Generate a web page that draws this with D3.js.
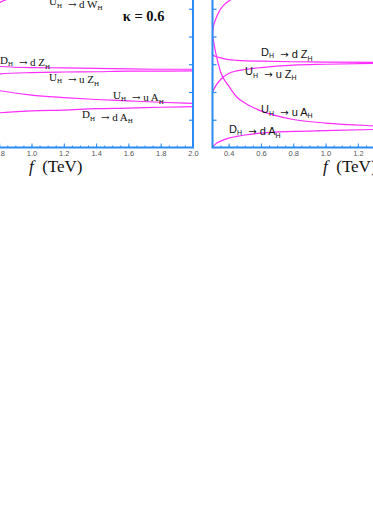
<!DOCTYPE html>
<html>
<head>
<meta charset="utf-8">
<script src="https://cdn.jsdelivr.net/npm/d3@7"></script>
<style>
	body { margin: 0; background: #fff; }
	svg { display: block; }
</style>
</head>
<body>
<div id="chart"></div>
<script>
// branching ratios vs f (TeV)
var leftF   = [0.75, 0.8, 1.0, 1.2, 1.4, 1.6, 1.8, 2.0];
var leftDZ  = [0.294, 0.292, 0.288, 0.287, 0.285, 0.283, 0.282, 0.282];
var leftUZ  = [0.262, 0.265, 0.270, 0.272, 0.273, 0.275, 0.275, 0.276];
var leftUA  = [0.210, 0.205, 0.189, 0.180, 0.173, 0.168, 0.163, 0.159];
var leftDA  = [0.122, 0.125, 0.132, 0.135, 0.140, 0.142, 0.145, 0.147];
var leftWF  = [0.75, 0.8, 0.85, 1.0, 1.2, 1.6, 2.0];
var leftDW  = [0.505, 0.522, 0.534, 0.555, 0.570, 0.585, 0.590];

var rightF  = [0.3, 0.32, 0.35, 0.4, 0.45, 0.5, 0.6, 0.8, 1.0, 1.3, 1.6, 2.0];
var rightUA = [0.405, 0.341, 0.272, 0.222, 0.182, 0.160, 0.132, 0.101, 0.088, 0.078, 0.072, 0.068];
var rightDZ = [0.333, 0.328, 0.323, 0.317, 0.314, 0.312, 0.311, 0.309, 0.308, 0.307, 0.307, 0.306];
var rightUZ = [0.200, 0.222, 0.245, 0.267, 0.276, 0.281, 0.288, 0.297, 0.300, 0.303, 0.304, 0.304];
var rightDA = [0.000, 0.013, 0.023, 0.034, 0.040, 0.045, 0.052, 0.058, 0.061, 0.065, 0.067, 0.069];
var rightWF = [0.3, 0.305, 0.315, 0.326, 0.346, 0.377, 0.408, 0.5, 0.7, 1.0, 1.5, 2.0];
var rightDW = [0.405, 0.435, 0.455, 0.471, 0.495, 0.517, 0.531, 0.556, 0.582, 0.598, 0.607, 0.610];

var leftXTicks  = [0.8, 1.0, 1.2, 1.4, 1.6, 1.8, 2.0];
var rightXTicks = [0.4, 0.6, 0.8, 1.0, 1.2, 1.4, 1.6, 1.8, 2.0];
var yTicks = [0.1, 0.2, 0.3, 0.4, 0.5, 0.6];

// labels: text, f, BR of the text anchor
var leftLabels = [
	["U_H ~ d W_H", 1.108, 0.5135],
	["D_H ~ d Z_H", 0.805, 0.301],
	["U_H ~ u Z_H", 1.108, 0.240],
	["U_H ~ u A_H", 1.505, 0.176],
	["D_H ~ d A_H", 1.313, 0.106]
];
var rightLabels = [
	["D_H ~ d Z_H", 0.600, 0.331],
	["U_H ~ u Z_H", 0.501, 0.260],
	["U_H ~ u A_H", 0.600, 0.123],
	["D_H ~ d A_H", 0.402, 0.054]
];

var width = 373,
	height = 526,
	pxPerF = 161.5,
	pxPerBr = 277.5,
	y0 = 147.5;

var blue = "#2a8cf4",
	pink = "#ff2cff",
	serif = "'Liberation Serif', 'Times New Roman', serif",
	sans = "'Liberation Sans', Arial, sans-serif";

var svg = d3.select("#chart")
	.append("svg")
	.attr("width", width)
	.attr("height", height);

var y = d3.scaleLinear()
	.domain([0, 0.7])
	.range([y0, y0 - 0.7 * pxPerBr]);

function zip(fs, vs) {
	return fs.map(function(f, i) { return [f, vs[i]]; });
}

// "_H" -> subscript, "~" -> arrow
function addLabel(g, x, yy, str, family, arrowFamily) {
	var t = g.append("text")
		.attr("x", x)
		.attr("y", yy)
		.attr("font-family", family)
		.attr("font-size", 11)
		.attr("fill", "#111")
		.style("white-space", "pre");
	str.split(/(_H|~)/).forEach(function(p) {
		if (!p) return;
		if (p === "_H") {
			t.append("tspan").attr("font-size", 7).attr("dy", 2.5).text("H");
			t.append("tspan").attr("dy", -2.5).text("");
		} else if (p === "~") {
			t.append("tspan").attr("font-family", arrowFamily).attr("font-size", 10).text(" \u2192");
		} else {
			t.append("tspan").text(p);
		}
	});
}

function panel(id, x0, curves, labels, xTicks, yAxisAt, yAxisFn, labelFont, arrowFont) {
	var x = d3.scaleLinear()
		.domain([0.3, 2.0])
		.range([x0, x0 + 1.7 * pxPerF]);

	var g = svg.append("g");

	g.append("clipPath")
		.attr("id", id)
		.append("rect")
		.attr("x", x(0.3))
		.attr("y", y(0.7))
		.attr("width", x(2.0) - x(0.3))
		.attr("height", y(0) - y(0.7));

	var line = d3.line()
		.x(function(d) { return x(d[0]); })
		.y(function(d) { return y(d[1]); })
		.curve(d3.curveMonotoneX);

	g.append("g")
		.attr("clip-path", "url(#" + id + ")")
		.selectAll("path")
		.data(curves)
		.enter()
		.append("path")
		.attr("d", line)
		.attr("fill", "none")
		.attr("stroke", pink)
		.attr("stroke-width", 1.2);

	// minor x ticks
	g.append("g")
		.attr("transform", "translate(0," + y0 + ")")
		.call(d3.axisBottom(x)
			.tickValues(d3.range(0.3, 2.001, 0.05))
			.tickSizeInner(-2)
			.tickSizeOuter(0)
			.tickFormat(""))
		.call(function(a) { a.select(".domain").remove(); })
		.selectAll("line").attr("stroke", blue);

	var xa = g.append("g")
		.attr("transform", "translate(0," + y0 + ")")
		.call(d3.axisBottom(x)
			.tickValues(xTicks)
			.tickSizeInner(-4)
			.tickSizeOuter(0)
			.tickPadding(3)
			.tickFormat(d3.format(".1f")));
	xa.select(".domain").remove();
	xa.selectAll("line").attr("stroke", blue);
	xa.selectAll("text")
		.attr("font-family", sans)
		.attr("font-size", 7.5)
		.attr("fill", "#555");

	var ya = g.append("g")
		.attr("transform", "translate(" + yAxisAt(x) + ",0)")
		.call(yAxisFn(y).tickValues(yTicks).tickSizeInner(4).tickSizeOuter(0).tickFormat(""));
	ya.select(".domain").remove();
	ya.selectAll("line").attr("stroke", blue).attr("stroke-width", 1.2);

	g.append("rect")
		.attr("x", x(0.3))
		.attr("y", y(0.7))
		.attr("width", x(2.0) - x(0.3))
		.attr("height", y(0) - y(0.7))
		.attr("fill", "none")
		.attr("stroke", blue)
		.attr("stroke-width", 2);

	labels.forEach(function(l) {
		addLabel(g, x(l[1]), y(l[2]), l[0], labelFont, arrowFont);
	});

	// axis title
	var mid = (x(0.3) + x(2.0)) / 2;
	var title = g.append("text")
		.attr("x", mid)
		.attr("y", 172)
		.attr("text-anchor", "middle")
		.attr("font-family", serif)
		.attr("font-size", 17)
		.attr("fill", "#111")
		.style("white-space", "pre");
	title.append("tspan").attr("font-style", "italic").text("f");
	title.append("tspan").text("  (TeV)");

	return x;
}

var xl = panel("clipL", 193 - 1.7 * pxPerF, [
		zip(leftF, leftDZ),
		zip(leftF, leftUZ),
		zip(leftF, leftUA),
		zip(leftF, leftDA),
		zip(leftWF, leftDW)
	], leftLabels, leftXTicks,
	function(x) { return x(2.0); }, d3.axisLeft,
	serif, "'DejaVu Serif', serif");

panel("clipR", 212.5, [
		zip(rightF, rightDZ),
		zip(rightF, rightUZ),
		zip(rightF, rightUA),
		zip(rightF, rightDA),
		zip(rightWF, rightDW)
	], rightLabels, rightXTicks,
	function(x) { return x(0.3); }, d3.axisRight,
	sans, "'DejaVu Sans', sans-serif");

svg.append("text")
	.attr("x", xl(1.565))
	.attr("y", y(0.456))
	.attr("font-family", serif)
	.attr("font-weight", "bold")
	.attr("font-size", 14.5)
	.attr("fill", "#111")
	.text("\u03ba = 0.6");
</script>
</body>
</html>
